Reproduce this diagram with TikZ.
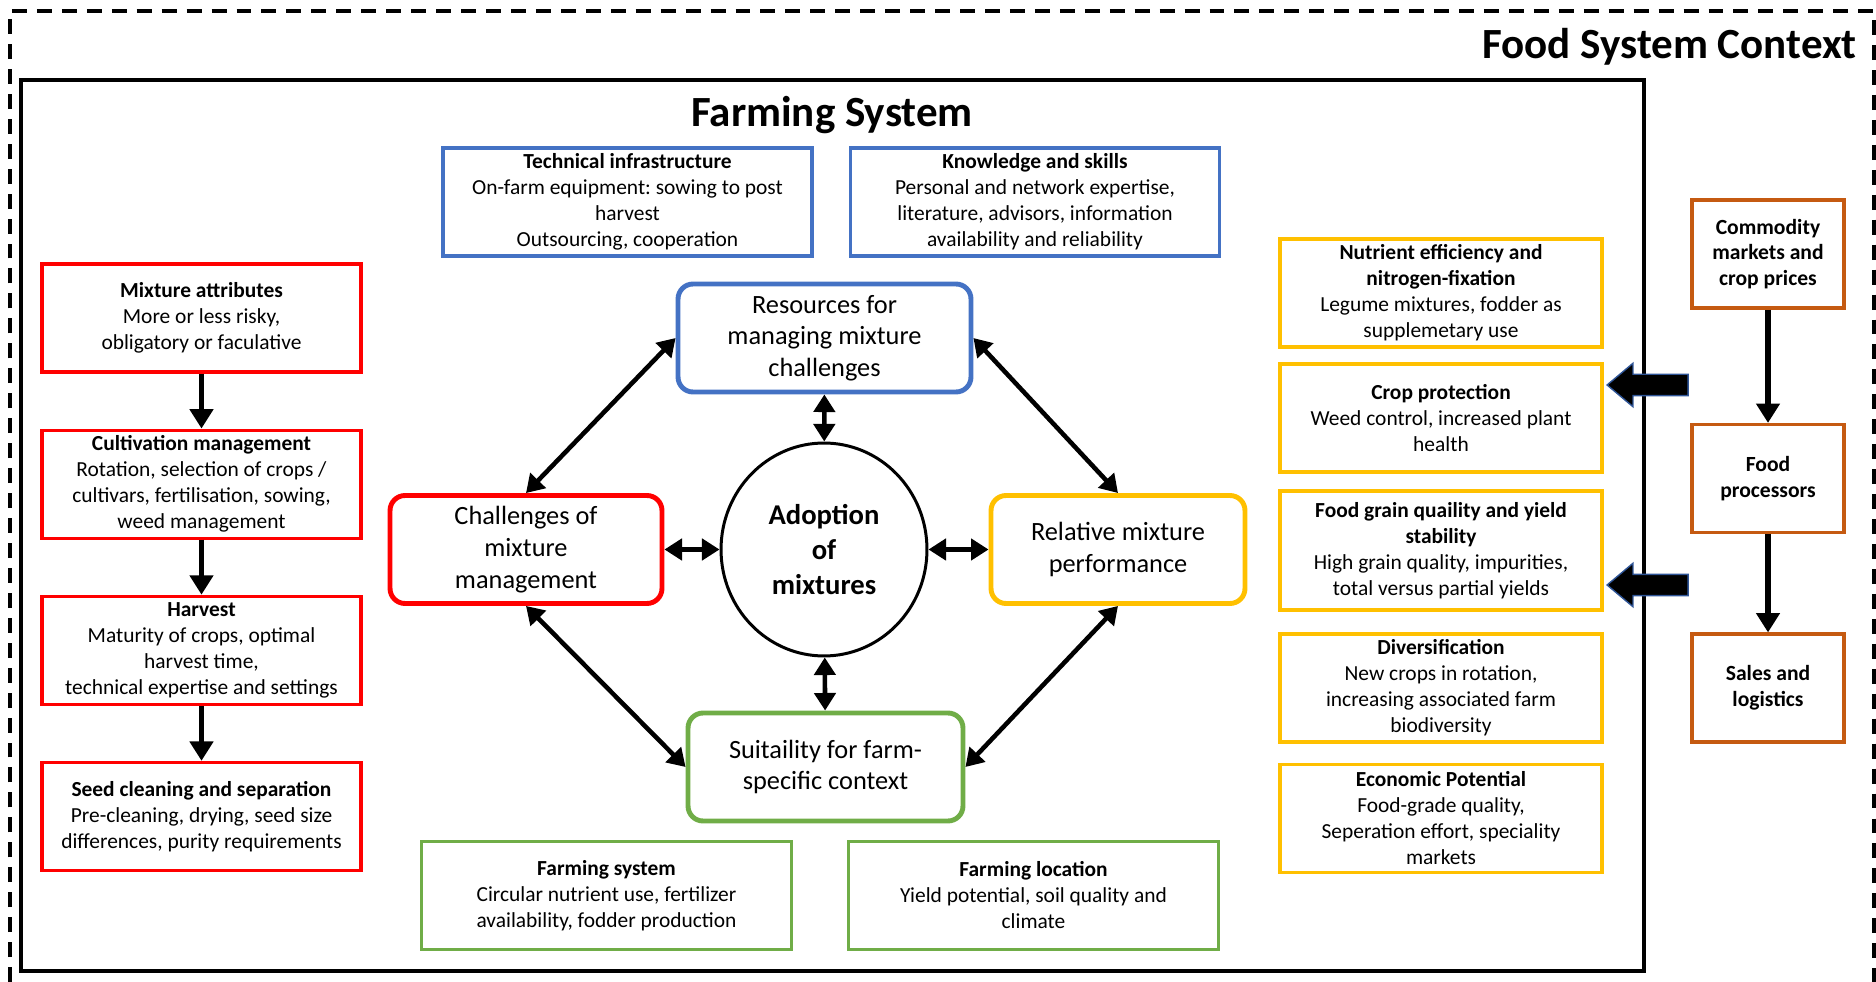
\documentclass[tikz,border=0pt]{standalone}
\usepackage{fontspec}
\setmainfont{Carlito}
\usetikzlibrary{arrows.meta,positioning,shapes.geometric,shapes.arrows}
\frenchspacing

\definecolor{boxred}{HTML}{FF0000}
\definecolor{boxblue}{HTML}{4472C4}
\definecolor{boxyellow}{HTML}{FFC000}
\definecolor{boxgreen}{HTML}{70AD47}
\definecolor{boxorange}{HTML}{C55A11}
\definecolor{navyedge}{HTML}{2F5597}

% bold first line of a factor box
\newcommand{\hd}[1]{\textbf{#1}\\}

\begin{document}
\begin{tikzpicture}[x=0.02cm, y=-0.02cm,
  info/.style={draw, line width=1.8pt, align=center, inner sep=2pt,
               minimum height=2.16cm, font=\fontsize{12.2}{14.8}\selectfont},
  redbox/.style={info, draw=boxred, minimum width=6.38cm},
  bluebox/.style={info, draw=boxblue, minimum width=7.38cm},
  greenbox/.style={info, draw=boxgreen, minimum width=7.4cm},
  yelbox/.style={info, draw=boxyellow, minimum width=6.44cm},
  orbox/.style={info, draw=boxorange, minimum width=3.04cm,
                font=\fontsize{12.3}{14.6}\selectfont\bfseries},
  core/.style={draw, rounded corners=0.3cm, line width=2.8pt, align=center,
               minimum height=2.16cm, font=\fontsize{15}{18}\selectfont},
  arr/.style={-{Triangle[length=11pt,width=13pt]}, line width=3.2pt},
  darr/.style={{Triangle[length=10pt,width=12pt]}-{Triangle[length=10pt,width=12pt]},
               line width=2.6pt},
  fatarr/.style={single arrow, fill=black, draw=navyedge, line width=0.8pt,
                 minimum height=1.62cm, minimum width=0.84cm, inner sep=0.2cm,
                 single arrow head extend=0.22cm, single arrow tip angle=80,
                 shape border rotate=180, anchor=tip},
  title/.style={inner sep=0pt, font=\fontsize{24.5}{29}\selectfont\bfseries},
]
\useasboundingbox (0,0) rectangle (1876,982);

% frames
\draw[line width=2.3pt, dash pattern=on 8.5pt off 5.7pt]
  (10,982) -- (10,11) -- (1874,11) -- (1874,982);
\draw[line width=2pt] (21,80) rectangle (1644,971);
\node[title, anchor=base east] (fsc) at (1857,59) {Food System Context};
\node[title, anchor=base] (fs) at (832,127) {Farming System};

% core of the framework
\node[core, draw=boxblue, minimum width=5.86cm] (res) at (824.5,338)
  {Resources for\\managing mixture\\challenges};
\node[core, draw=boxred, minimum width=5.44cm] (chal) at (526,549.5)
  {Challenges of\\mixture\\management};
\node[core, draw=boxyellow, minimum width=5.08cm] (rel) at (1118,549.5)
  {Relative mixture\\performance};
\node[core, draw=boxgreen, minimum width=5.5cm] (suit) at (825.5,767)
  {Suitaility for farm-\\specific context};
\node[ellipse, draw, line width=1.7pt, minimum width=4.12cm, minimum height=4.26cm,
      inner sep=0pt, align=center, font=\fontsize{16.3}{19.7}\selectfont\bfseries]
  (adopt) at (824,549.5) {Adoption\\of\\mixtures};

\draw[darr] (res.west) -- (chal.north);
\draw[darr] (res.east) -- (rel.north);
\draw[darr] (chal.south) -- (suit.west);
\draw[darr] (rel.south) -- (suit.east);
\draw[darr] (res) -- (adopt);
\draw[darr] (chal) -- (adopt);
\draw[darr] (adopt) -- (rel);
\draw[darr] (adopt) -- (suit);

% resources
\node[bluebox] (tech) at (627.5,202)
  {\hd{Technical infrastructure}On-farm equipment: sowing to post\\harvest\\Outsourcing, cooperation};
\node[bluebox] (know) at (1035,202)
  {\hd{Knowledge and skills}Personal and network expertise,\\literature, advisors, information\\availability and reliability};

% farm context
\node[greenbox] (farmsys) at (606.5,895.5)
  {\hd{Farming system}Circular nutrient use, fertilizer\\availability, fodder production};
\node[greenbox] (farmloc) at (1033.5,895.5)
  {\hd{Farming location}Yield potential, soil quality and\\climate};

% management chain
\node[redbox] (mixattr) at (201.5,318)
  {\hd{Mixture attributes}More or less risky,\\obligatory or faculative};
\node[redbox, below=1.1cm of mixattr] (cultiv)
  {\hd{Cultivation management}Rotation, selection of crops /\\cultivars, fertilisation, sowing,\\weed management};
\node[redbox, below=1.1cm of cultiv] (harvest)
  {\hd{Harvest}Maturity of crops, optimal\\harvest time,\\technical expertise and settings};
\node[redbox, below=1.1cm of harvest] (seedclean)
  {\hd{Seed cleaning and separation}Pre-cleaning, drying, seed size\\differences, purity requirements};
\draw[arr] (mixattr) -- (cultiv);
\draw[arr] (cultiv) -- (harvest);
\draw[arr] (harvest) -- (seedclean);

% performance
\node[yelbox] (nutri) at (1441,293)
  {\textbf{Nutrient efficiency and}\\\textbf{nitrogen-fixation}\\Legume mixtures, fodder as\\supplemetary use};
\node[yelbox] (cropprot) at (1441,418)
  {\hd{Crop protection}Weed control, increased plant\\health};
\node[yelbox, minimum height=2.38cm] (grain) at (1441,550.5)
  {\textbf{Food grain quaility and yield}\\\textbf{stability}\\High grain quality, impurities,\\total versus partial yields};
\node[yelbox] (divers) at (1441,688)
  {\hd{Diversification}New crops in rotation,\\increasing associated farm\\biodiversity};
\node[yelbox] (econ) at (1441,818.5)
  {\hd{Economic Potential}Food-grade quality,\\Seperation effort, speciality\\markets};

% food system
\node[orbox] (commod) at (1768,254) {Commodity\\markets and\\crop prices};
\node[orbox] (foodproc) at (1768,478.5) {Food\\processors};
\node[orbox] (sales) at (1768,688) {Sales and\\logistics};
\draw[arr] (commod) -- (foodproc);
\draw[arr] (foodproc) -- (sales);

\node[fatarr] (pushA) at (1606,385) {};
\node[fatarr] (pushB) at (1606,585) {};
\end{tikzpicture}
\end{document}
